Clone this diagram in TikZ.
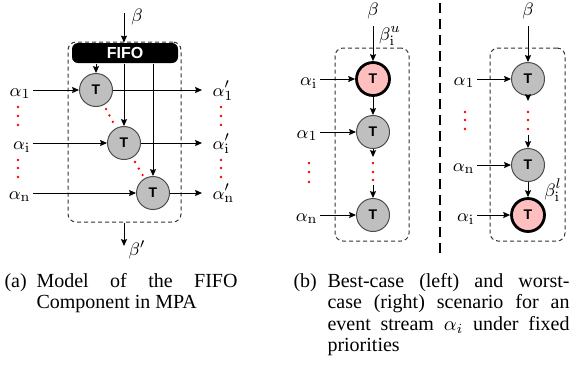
\documentclass[tikz,border=0pt]{standalone}
\usepackage[no-math]{fontspec}
\setmainfont{Liberation Serif}
\setsansfont{Liberation Sans}
\usetikzlibrary{arrows.meta}

\begin{document}
\begin{tikzpicture}[x=.5pt, y=-.5pt, line width=.5pt,
    >={Stealth[length=3.4pt,width=3pt,inset=.4pt]},
    font=\fontsize{9.5}{11}\selectfont,
    task/.style={circle, draw=black!70, fill=black!25, minimum size=16.5pt, inner sep=0pt,
      font=\sffamily\bfseries\fontsize{7}{8}\selectfont},
    crit/.style={task, draw=black, fill=red!25, line width=1.4pt},
    inl/.style={anchor=base east, inner sep=1pt},
    outl/.style={anchor=base west, inner sep=1pt},
    comp/.style={draw=black!80, dash pattern=on 2pt off 1.5pt, rounded corners=4pt, inner sep=0pt},
    rdot/.style={circle, fill=red, inner sep=0pt, minimum size=1.3pt},
    captxt/.style={anchor=base west, inner sep=0pt, font=\fontsize{10}{10.75}\selectfont}]
  \useasboundingbox (0,0) rectangle (571,366);

  % (a) FIFO component
  \node[comp, minimum width=56.5pt, minimum height=90pt] (boxa) at (124.5,132) {};
  \node[fill=black, rounded corners=3pt, minimum width=53pt, minimum height=10pt, inner sep=0pt,
    text=white, font=\sffamily\bfseries\fontsize{8}{9}\selectfont] (fifo) at (125,53) {FIFO};
  \node[task] (t1) at (96,90) {T};
  \node[task] (ti) at (124,143) {T};
  \node[task] (tn) at (153,193) {T};
  \coordinate (bin) at (124,13);
  \node (ba) at (137,17) {$\beta$};
  \draw[->] (bin) -- (bin |- fifo.north);
  \draw[->] (t1 |- fifo.south) -- (t1);
  \draw[->] (ti |- fifo.south) -- (ti);
  \draw[->] (tn |- fifo.south) -- (tn);
  \node[inl] (a1) at (33,96) {$\alpha_1$};
  \node[inl] (ai) at (33,149) {$\alpha_{\mathrm{i}}$};
  \node[inl] (an) at (33,199) {$\alpha_{\mathrm{n}}$};
  \node[outl] (o1) at (210,96) {$\alpha'_1$};
  \node[outl] (oi) at (210,149) {$\alpha'_{\mathrm{i}}$};
  \node[outl] (on) at (210,199) {$\alpha'_{\mathrm{n}}$};
  \draw[->] (a1.east |- t1) -- (t1);
  \draw[->] (ai.east |- ti) -- (ti);
  \draw[->] (an.east |- tn) -- (tn);
  \draw[->, shorten >=4pt] (t1) -- (o1.west |- t1);
  \draw[->, shorten >=4pt] (ti) -- (oi.west |- ti);
  \draw[->, shorten >=4pt] (tn) -- (on.west |- tn);
  \foreach \y in {107,116,125,160,168,177}
    {\fill[red] (18,\y) circle (.65pt); \fill[red] (221,\y) circle (.65pt);}
  \path (t1.center) -- (ti.center) node[rdot,pos=.36]{} node[rdot,pos=.48]{} node[rdot,pos=.6]{};
  \path (ti.center) -- (tn.center) node[rdot,pos=.38]{} node[rdot,pos=.51]{} node[rdot,pos=.64]{};
  \coordinate (bout) at (124,246);
  \node (bo) at (137,250) {$\beta'$};
  \draw[->] (ti |- boxa.south) -- (bout);

  % (b) best case
  \node[comp, minimum width=37pt, minimum height=96.5pt] (boxb) at (372,144.5) {};
  \node[crit] (b1) at (373,79) {T};
  \node[task] (b2) at (373,132) {T};
  \node[task] (b3) at (373,215) {T};
  \node (bb) at (373,11) {$\beta$};
  \node (bu) at (390,36) {$\beta^u_{\mathrm{i}}$};
  \draw[->] (bb) -- (b1);
  \node[inl] (bil) at (320,85) {$\alpha_{\mathrm{i}}$};
  \node[inl] (b1l) at (320,138) {$\alpha_1$};
  \node[inl] (bnl) at (320,221) {$\alpha_{\mathrm{n}}$};
  \draw[->] (bil.east |- b1) -- (b1);
  \draw[->] (b1l.east |- b2) -- (b2);
  \draw[->] (bnl.east |- b3) -- (b3);
  \coordinate (b2e) at (373,157);
  \coordinate (b3s) at (373,185);
  \draw[->] (b1) -- (b2);
  \draw[->] (b2) -- (b2e);
  \draw[->] (b3s) -- (b3);
  \foreach \y in {163,172,180} \fill[red] (373,\y) circle (.65pt);
  \foreach \y in {163,172,182} \fill[red] (309,\y) circle (.65pt);

  \draw[dash pattern=on 5pt off 3pt, line width=.6pt] (440,3) -- (440,258);

  % (b) worst case
  \node[comp, minimum width=37.5pt, minimum height=96.5pt] (boxw) at (527.5,144.5) {};
  \node[task] (w1) at (528,79) {T};
  \node[task] (w2) at (528,165) {T};
  \node[crit] (w3) at (528,215) {T};
  \node (wb) at (528,11) {$\beta$};
  \node (bl) at (553,190) {$\beta^l_{\mathrm{i}}$};
  \draw[->] (wb) -- (w1);
  \node[inl] (w1l) at (477,85) {$\alpha_1$};
  \node[inl] (wnl) at (477,171) {$\alpha_{\mathrm{n}}$};
  \node[inl] (wil) at (477,221) {$\alpha_{\mathrm{i}}$};
  \draw[->] (w1l.east |- w1) -- (w1);
  \draw[->] (wnl.east |- w2) -- (w2);
  \draw[->] (wil.east |- w3) -- (w3);
  \coordinate (w1e) at (528,101);
  \coordinate (w2s) at (528,135);
  \draw[->] (w1) -- (w1e);
  \draw[->] (w2s) -- (w2);
  \draw[->] (w2) -- (w3);
  \foreach \y in {112,120,129}
    {\fill[red] (528,\y) circle (.65pt); \fill[red] (465,\y) circle (.65pt);}

  % captions
  \node[captxt] (capa) at (4,287) {(a)};
  \node[captxt, text width=100.5pt, align=justify] (capat) at (36,287)
    {Model of the FIFO\linebreak Component in MPA};
  \node[captxt] (capb) at (293,287) {(b)};
  \node[captxt, text width=121pt, align=justify] (capbt) at (327,287)
    {Best-case (left) and worst-\linebreak case (right) scenario for an\linebreak
     event stream $\alpha_i$ under fixed\linebreak priorities};
\end{tikzpicture}
\end{document}
